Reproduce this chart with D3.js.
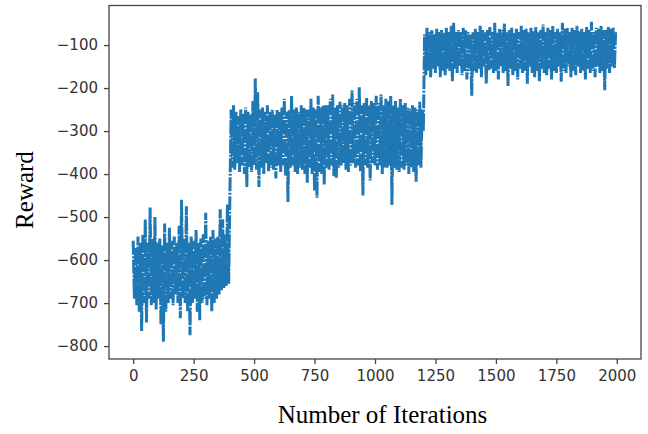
<!DOCTYPE html>
<html>
<head>
<meta charset="utf-8">
<script src="https://cdn.jsdelivr.net/npm/d3@7"></script>
<style>
    body { margin: 0; background: #fff; }
    #chart { width: 648px; height: 434px; }
    .axis text { font-family: "DejaVu Sans", sans-serif; font-size: 15px; fill: #333; }
    .axis path, .axis line { stroke: #444; stroke-width: 1.3px; }
    .label { font-family: "Liberation Serif", "Times New Roman", serif; font-size: 25px; fill: #000; }
</style>
</head>
<body>
<div id="chart"></div>
<script>

// reward, one value every 5 iterations
const STEP = 5;

// iterations 0 - 395
const phase1Start = 0;
const phase1 = [
    -555, -690, -570, -705, -545, -720, -560, -765, -540, -700,
    -505, -745, -560, -690, -478, -705, -550, -700, -500, -715,
    -560, -690, -550, -750, -565, -790, -515, -720, -560, -700,
    -525, -690, -555, -705, -545, -680, -560, -700, -520, -735,
    -460, -690, -550, -700, -475, -720, -560, -775, -545, -700,
    -555, -690, -530, -720, -560, -740, -550, -700, -540, -690,
    -490, -705, -555, -690, -545, -720, -530, -700, -550, -690,
    -545, -680, -482, -670, -505, -665, -540, -660, -470, -655
];

// iterations 400 - 1195
const phase2Start = 400;
const phase2 = [
    -450, -250, -385, -240, -390, -255, -375, -265, -395, -250,
    -380, -260, -400, -245, -430, -255, -385, -260, -395, -230,
    -380, -178, -390, -210, -430, -250, -385, -245, -400, -255,
    -375, -240, -395, -255, -385, -250, -390, -262, -410, -250,
    -380, -255, -395, -245, -380, -225, -405, -255, -465, -250,
    -385, -218, -380, -250, -395, -245, -400, -255, -385, -240,
    -390, -245, -400, -250, -420, -250, -385, -225, -400, -245,
    -440, -250, -455, -218, -395, -245, -400, -240, -425, -240,
    -385, -240, -390, -225, -380, -215, -405, -245, -410, -240,
    -385, -232, -380, -240, -375, -235, -390, -240, -395, -225,
    -380, -205, -375, -235, -385, -225, -380, -198, -395, -240,
    -450, -235, -380, -222, -385, -240, -415, -230, -375, -235,
    -380, -218, -390, -235, -380, -215, -400, -240, -385, -225,
    -385, -230, -380, -218, -472, -240, -385, -230, -390, -245,
    -395, -225, -385, -240, -390, -235, -380, -245, -400, -248,
    -385, -240, -395, -245, -418, -250, -380, -232, -385, -250
];

// iterations 1200 - 1995
const phase3Start = 1200;
const phase3 = [
    -300, -75, -170, -60, -160, -70, -175, -65, -155, -75,
    -165, -62, -150, -70, -175, -65, -160, -70, -170, -60,
    -155, -70, -160, -55, -185, -48, -155, -70, -165, -65,
    -150, -70, -170, -60, -160, -65, -180, -70, -160, -75,
    -218, -70, -160, -62, -165, -70, -155, -55, -175, -65,
    -150, -70, -190, -65, -160, -58, -155, -70, -165, -48,
    -160, -70, -180, -62, -150, -65, -165, -50, -160, -70,
    -195, -65, -155, -60, -170, -70, -160, -62, -180, -70,
    -155, -55, -165, -65, -160, -62, -190, -70, -150, -60,
    -165, -68, -175, -58, -160, -70, -185, -65, -155, -52,
    -165, -70, -170, -60, -155, -65, -180, -55, -160, -70,
    -165, -62, -150, -70, -185, -48, -160, -62, -165, -60,
    -150, -70, -175, -60, -160, -65, -170, -55, -150, -68,
    -165, -62, -160, -70, -180, -58, -155, -65, -165, -46,
    -160, -70, -175, -60, -150, -62, -165, -55, -160, -65,
    -205, -65, -155, -58, -165, -62, -150, -60, -155, -70
];

// axis ranges / ticks
const xDomain = [-100, 2100];
const yDomain = [-830, -8];
const xTicks = [0, 250, 500, 750, 1000, 1250, 1500, 1750, 2000];
const yTicks = [-800, -700, -600, -500, -400, -300, -200, -100];


class RewardVis {

    constructor(parentElement, phases) {
        this.parentElement = parentElement;
        this.phases = phases;
        this.initVis();
    }

    initVis() {
        let vis = this;

        // margin conventions
        vis.margin = {top: 5.5, right: 7, bottom: 75, left: 109};
        vis.width = 648 - vis.margin.left - vis.margin.right;
        vis.height = 434 - vis.margin.top - vis.margin.bottom;

        vis.svg = d3.select("#" + vis.parentElement).append("svg")
            .attr("width", 648)
            .attr("height", 434)
            .append("g")
            .attr("transform", "translate(" + vis.margin.left + "," + vis.margin.top + ")");

        vis.x = d3.scaleLinear().domain(xDomain).range([0, vis.width]);
        vis.y = d3.scaleLinear().domain(yDomain).range([vis.height, 0]);

        vis.xAxis = d3.axisBottom(vis.x).tickValues(xTicks).tickFormat(d3.format("d"))
            .tickSize(5).tickPadding(6);
        vis.yAxis = d3.axisLeft(vis.y).tickValues(yTicks).tickFormat(d3.format("d"))
            .tickSize(5).tickPadding(6);

        vis.wrangleData();
    }

    wrangleData() {
        let vis = this;

        vis.points = [];
        vis.phases.forEach(p => {
            p.values.forEach((v, i) => {
                vis.points.push({iter: p.start + i * STEP, reward: v});
            });
        });

        vis.updateVis();
    }

    updateVis() {
        let vis = this;

        let line = d3.line()
            .x(d => vis.x(d.iter))
            .y(d => vis.y(d.reward));

        vis.svg.append("path")
            .datum(vis.points)
            .attr("fill", "none")
            .attr("stroke", "#1f77b4")
            .attr("stroke-width", 3)
            .attr("stroke-dasharray", "14,1.5,2,1.5")
            .attr("d", line);

        vis.svg.append("g")
            .attr("class", "x-axis axis")
            .attr("transform", "translate(0," + vis.height + ")")
            .call(vis.xAxis)
            .select(".domain").remove();

        vis.svg.append("g")
            .attr("class", "y-axis axis")
            .call(vis.yAxis)
            .select(".domain").remove();

        // frame
        vis.svg.append("rect")
            .attr("width", vis.width)
            .attr("height", vis.height)
            .attr("fill", "none")
            .attr("stroke", "#444")
            .attr("stroke-width", 1.3);

        vis.svg.append("text")
            .attr("class", "label")
            .attr("text-anchor", "middle")
            .attr("x", 382.5 - vis.margin.left)
            .attr("y", 423 - vis.margin.top)
            .text("Number of Iterations");

        vis.svg.append("text")
            .attr("class", "label")
            .attr("text-anchor", "middle")
            .attr("transform", "translate(" + (33 - vis.margin.left) + "," + (190 - vis.margin.top) + ") rotate(-90)")
            .text("Reward");
    }
}

new RewardVis("chart", [
    {start: phase1Start, values: phase1},
    {start: phase2Start, values: phase2},
    {start: phase3Start, values: phase3}
]);

</script>
</body>
</html>
